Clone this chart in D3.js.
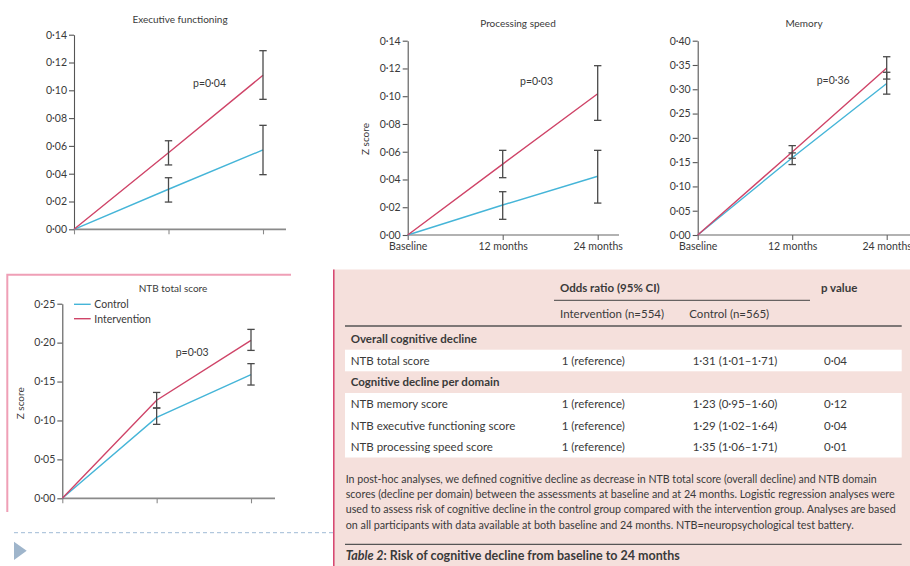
<!DOCTYPE html>
<html>
<head>
<meta charset="utf-8">
<title>FINGER cognitive outcomes</title>
<script src="https://d3js.org/d3.v7.min.js"></script>
<style>
  body { margin:0; background:#fff; }
  svg text { font-family: Lato, "Open Sans", sans-serif; fill:#3a3a3a; }
</style>
</head>
<body>
<svg width="910" height="566"></svg>
<script>
// ---- data ----
var timepoints = ["Baseline", "12 months", "24 months"];

// executive functioning
var execControl   = [0, 0.0288, 0.0571];
var execControlLo = [0, 0.0196, 0.0393];
var execControlHi = [0, 0.0371, 0.0748];
var execInterv    = [0, 0.0551, 0.1108];
var execIntervLo  = [0, 0.0463, 0.0935];
var execIntervHi  = [0, 0.0637, 0.1285];

// processing speed
var procControl   = [0, 0.0216, 0.0423];
var procControlLo = [0, 0.0113, 0.0230];
var procControlHi = [0, 0.0312, 0.0610];
var procInterv    = [0, 0.0511, 0.1018];
var procIntervLo  = [0, 0.0413, 0.0826];
var procIntervHi  = [0, 0.0610, 0.1220];

// memory
var memControl   = [0, 0.159, 0.312];
var memControlLo = [0, 0.145, 0.290];
var memControlHi = [0, 0.169, 0.335];
var memInterv    = [0, 0.171, 0.344];
var memIntervLo  = [0, 0.158, 0.321];
var memIntervHi  = [0, 0.184, 0.367];

// NTB total score
var ntbControl   = [0, 0.104, 0.159];
var ntbControlLo = [0, 0.095, 0.1455];
var ntbControlHi = [0, 0.116, 0.173];
var ntbInterv    = [0, 0.126, 0.203];
var ntbIntervLo  = [0, 0.116, 0.190];
var ntbIntervHi  = [0, 0.136, 0.217];

var seriesNames = ["Control", "Intervention"];

// table 2
var sectionLabels = ["Overall cognitive decline", "Cognitive decline per domain"];
var rowLabels = ["NTB total score", "NTB memory score", "NTB executive functioning score", "NTB processing speed score"];
var interventionOR = ["1 (reference)", "1 (reference)", "1 (reference)", "1 (reference)"];
var controlOR = ["1·31 (1·01–1·71)", "1·23 (0·95–1·60)", "1·29 (1·02–1·64)", "1·35 (1·06–1·71)"];
var pValues = ["0·04", "0·12", "0·04", "0·01"];
var footnote = [
  "In post-hoc analyses, we defined cognitive decline as decrease in NTB total score (overall decline) and NTB domain",
  "scores (decline per domain) between the assessments at baseline and at 24 months. Logistic regression analyses were",
  "used to assess risk of cognitive decline in the control group compared with the intervention group. Analyses are based",
  "on all participants with data available at both baseline and 24 months. NTB=neuropsychological test battery."
];

var RED = "#cf4468", BLUE = "#45b5d8", BAR = "#4a4a4a";
var svg = d3.select("svg");
var fmt = function(d){ return d3.format(".2f")(d).replace(".", "·"); };

// ---- background decorations ----
// table panel
svg.append("rect").attr("x", 333.5).attr("y", 269.5).attr("width", 577).attr("height", 297).attr("fill", "#f5e0dc");
svg.append("line").attr("x1", 333.8).attr("x2", 333.8).attr("y1", 269.5).attr("y2", 566)
  .attr("stroke", "#d6416c").attr("stroke-width", 1.5);
// NTB panel frame
svg.append("path").attr("d", "M7.3,512V274.7H291").attr("fill", "none")
  .attr("stroke", "#ef9fb6").attr("stroke-width", 2);
// dashed divider + arrow
svg.append("line").attr("x1", 14).attr("x2", 333).attr("y1", 532.7).attr("y2", 532.7)
  .attr("stroke", "#9fbbd6").attr("stroke-width", 1).attr("stroke-dasharray", "4,3");
svg.append("path").attr("d", "M14,541.7L26.7,550.8L14,560Z").attr("fill", "#9fb5cb");

// ---- chart panels ----
function drawPanel(cfg) {
  var x = d3.scalePoint().domain(timepoints).range([cfg.x0, cfg.x1]);
  var y = d3.scaleLinear().domain([0, cfg.yMax]).range([cfg.yBottom, cfg.yTop]);
  var g = svg.append("g");

  g.append("text").attr("x", cfg.titleX).attr("y", cfg.titleY).attr("text-anchor", "middle")
    .attr("font-size", 10).text(cfg.title);

  // x axis
  var xa = g.append("g").attr("transform", "translate(0," + cfg.yBottom + ")")
    .call(d3.axisBottom(x).tickSize(5).tickPadding(3)
      .tickFormat(cfg.xLabels ? null : function(){ return ""; }));
  xa.select(".domain").remove();
  xa.selectAll("line").attr("stroke", cfg.xColor).attr("stroke-width", 1.1);
  xa.selectAll("text").attr("font-size", 10.5).attr("fill", "#3a3a3a").attr("font-family", "Lato");
  xa.append("line").attr("x1", cfg.x0).attr("x2", cfg.axisEnd).attr("y1", 0).attr("y2", 0)
    .attr("stroke", cfg.xColor).attr("stroke-width", cfg.xWidth);

  // y axis
  var ya = g.append("g").attr("transform", "translate(" + cfg.x0 + ",0)")
    .call(d3.axisLeft(y).tickValues(d3.range(0, cfg.yMax + cfg.step / 2, cfg.step))
      .tickSize(5).tickSizeOuter(0).tickPadding(2).tickFormat(fmt));
  ya.select(".domain").attr("stroke", "#555").attr("stroke-width", 1.1);
  ya.selectAll("line").attr("stroke", "#555").attr("stroke-width", 1.1);
  ya.selectAll("text").attr("font-size", 10.5).attr("fill", "#3a3a3a").attr("font-family", "Lato");

  if (cfg.yTitle) {
    g.append("text").attr("transform", "translate(" + cfg.yTitleX + "," + cfg.yTitleY + ") rotate(-90)")
      .attr("text-anchor", "middle").attr("font-size", 10).text("Z score");
  }

  var line = d3.line().x(function(d, i){ return x(timepoints[i]); }).y(function(d){ return y(d); });
  var series = [
    { v: cfg.control, lo: cfg.controlLo, hi: cfg.controlHi, c: BLUE },
    { v: cfg.interv, lo: cfg.intervLo, hi: cfg.intervHi, c: RED }
  ];
  series.forEach(function(s){
    g.append("path").datum(s.v).attr("d", line).attr("fill", "none")
      .attr("stroke", s.c).attr("stroke-width", 1.4);
  });
  series.forEach(function(s){
    var pts = d3.range(1, timepoints.length);
    var eb = g.append("g").selectAll("g").data(pts).enter().append("g")
      .attr("stroke", BAR).attr("stroke-width", 1.3);
    eb.append("line").attr("x1", function(i){ return x(timepoints[i]); })
      .attr("x2", function(i){ return x(timepoints[i]); })
      .attr("y1", function(i){ return y(s.lo[i]); }).attr("y2", function(i){ return y(s.hi[i]); });
    [s.lo, s.hi].forEach(function(arr){
      eb.append("line").attr("x1", function(i){ return x(timepoints[i]) - 3.7; })
        .attr("x2", function(i){ return x(timepoints[i]) + 3.7; })
        .attr("y1", function(i){ return y(arr[i]); }).attr("y2", function(i){ return y(arr[i]); });
    });
  });

  g.append("text").attr("x", cfg.pX).attr("y", cfg.pY).attr("font-size", 10.5).text(cfg.pText);

  if (cfg.legend) {
    var lg = g.append("g").selectAll("g").data(seriesNames).enter().append("g")
      .attr("transform", function(d, i){ return "translate(74," + (304.3 + i * 14.4) + ")"; });
    lg.append("line").attr("x1", 0).attr("x2", 16.7)
      .attr("stroke", function(d, i){ return i === 0 ? BLUE : RED; }).attr("stroke-width", 1.4);
    lg.append("text").attr("x", 20.3).attr("y", 3.8).attr("font-size", 10.5).text(function(d){ return d; });
  }
}

drawPanel({ title: "Executive functioning", titleX: 180, titleY: 22.5,
  x0: 74, x1: 263, axisEnd: 286, yBottom: 229.3, yTop: 34.7, yMax: 0.14, step: 0.02,
  xLabels: false, xColor: "#8a8a8a", xWidth: 1.8,
  control: execControl, controlLo: execControlLo, controlHi: execControlHi,
  interv: execInterv, intervLo: execIntervLo, intervHi: execIntervHi,
  pText: "p=0·04", pX: 193, pY: 87 });

drawPanel({ title: "Processing speed", titleX: 518, titleY: 26.5,
  x0: 407.7, x1: 597.7, axisEnd: 619, yBottom: 235, yTop: 40.7, yMax: 0.14, step: 0.02,
  xLabels: true, xColor: "#666", xWidth: 1.2,
  yTitle: true, yTitleX: 368.5, yTitleY: 139,
  control: procControl, controlLo: procControlLo, controlHi: procControlHi,
  interv: procInterv, intervLo: procIntervLo, intervHi: procIntervHi,
  pText: "p=0·03", pX: 520, pY: 85 });

drawPanel({ title: "Memory", titleX: 804, titleY: 26.5,
  x0: 697.7, x1: 886.7, axisEnd: 910, yBottom: 235, yTop: 40.7, yMax: 0.40, step: 0.05,
  xLabels: true, xColor: "#666", xWidth: 1.2,
  control: memControl, controlLo: memControlLo, controlHi: memControlHi,
  interv: memInterv, intervLo: memIntervLo, intervHi: memIntervHi,
  pText: "p=0·36", pX: 816.7, pY: 84 });

drawPanel({ title: "NTB total score", titleX: 173, titleY: 291.8,
  x0: 62.3, x1: 251, axisEnd: 275, yBottom: 498.3, yTop: 303.7, yMax: 0.25, step: 0.05,
  xLabels: false, xColor: "#8a8a8a", xWidth: 1.8,
  yTitle: true, yTitleX: 24, yTitleY: 403.3, legend: true,
  control: ntbControl, controlLo: ntbControlLo, controlHi: ntbControlHi,
  interv: ntbInterv, intervLo: ntbIntervLo, intervHi: ntbIntervHi,
  pText: "p=0·03", pX: 175.7, pY: 356 });

// ---- table 2 ----
var t = svg.append("g").attr("font-size", 11.5);
t.append("text").attr("x", 560).attr("y", 291.6).attr("font-weight", 700).attr("font-size", 11.5).text("Odds ratio (95% CI)");
t.append("text").attr("x", 821).attr("y", 291.6).attr("font-weight", 700).attr("font-size", 11.5).text("p value");
t.append("line").attr("x1", 554).attr("x2", 810).attr("y1", 300.3).attr("y2", 300.3).attr("stroke", "#444").attr("stroke-width", 1);
t.append("text").attr("x", 560).attr("y", 317.6).attr("font-size", 11.5).text("Intervention (n=554)");
t.append("text").attr("x", 689.3).attr("y", 317.6).attr("font-size", 11.5).text("Control (n=565)");
t.append("line").attr("x1", 345).attr("x2", 901.7).attr("y1", 326).attr("y2", 326).attr("stroke", "#555").attr("stroke-width", 1.3);

// white row bands
t.append("rect").attr("x", 345).attr("y", 349.7).attr("width", 556.7).attr("height", 21.6).attr("fill", "#fff");
t.append("rect").attr("x", 345).attr("y", 393).attr("width", 556.7).attr("height", 64.5).attr("fill", "#fff");

var sectionY = [343.2, 385.9];
t.selectAll(".sec").data(sectionLabels).enter().append("text")
  .attr("x", 350.7).attr("y", function(d, i){ return sectionY[i]; })
  .attr("font-weight", 700).attr("font-size", 11.5).text(function(d){ return d; });

var rowY = [364.9, 408.2, 429.9, 450.9];
var cols = [
  { x: 350.7, vals: rowLabels },
  { x: 561.7, vals: interventionOR },
  { x: 692.7, vals: controlOR },
  { x: 824, vals: pValues }
];
cols.forEach(function(c){
  t.selectAll(null).data(c.vals).enter().append("text")
    .attr("x", c.x).attr("y", function(d, i){ return rowY[i]; })
    .attr("font-size", 11.5).text(function(d){ return d; });
});

// footnote
var footW = [531, 549, 550, 508];
t.selectAll(".fn").data(footnote).enter().append("text")
  .attr("x", 345.7).attr("y", function(d, i){ return 482.6 + i * 15.3; })
  .attr("font-size", 10.8).attr("textLength", function(d, i){ return footW[i]; })
  .attr("lengthAdjust", "spacingAndGlyphs").text(function(d){ return d; });

t.append("line").attr("x1", 345).attr("x2", 901.7).attr("y1", 544.3).attr("y2", 544.3).attr("stroke", "#555").attr("stroke-width", 1.3);
var cap = t.append("text").attr("x", 345.7).attr("y", 559.5).attr("font-size", 12.5).attr("font-weight", 700);
cap.append("tspan").attr("font-style", "italic").text("Table 2");
cap.append("tspan").text(": Risk of cognitive decline from baseline to 24 months");
</script>
</body>
</html>
